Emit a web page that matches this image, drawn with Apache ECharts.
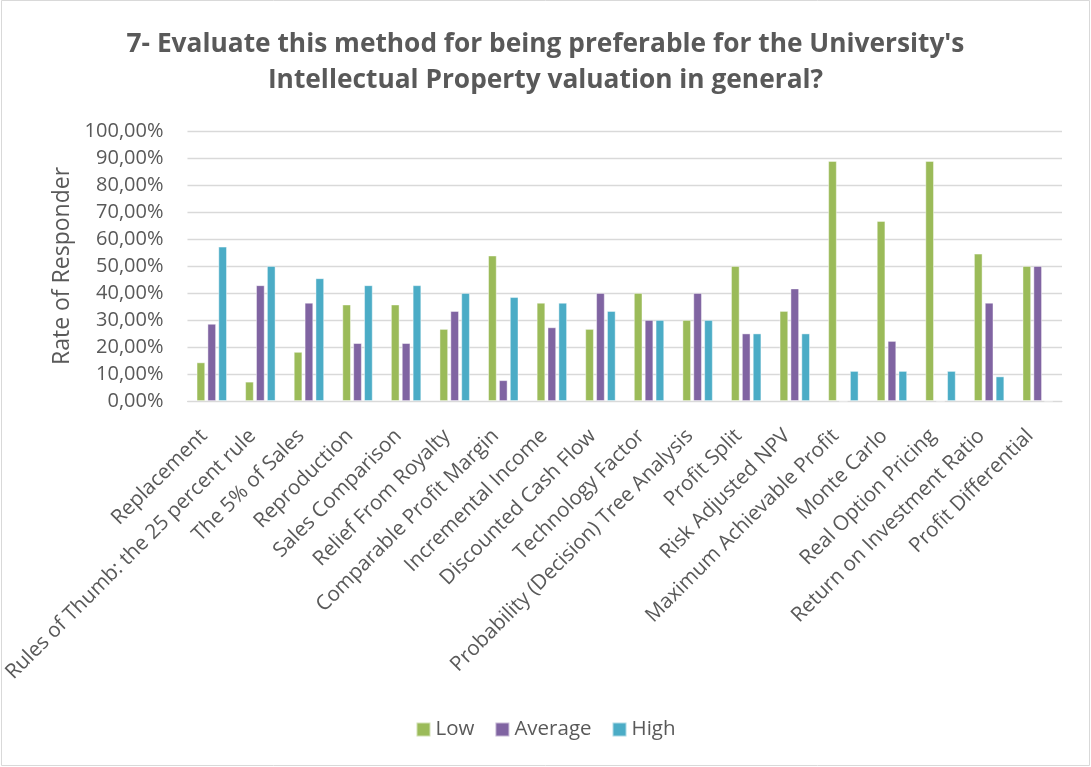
<!DOCTYPE html>
<html>
<head>
<meta charset="utf-8">
<script src="https://cdn.jsdelivr.net/npm/echarts@6/dist/echarts.min.js"></script>
<style>
  html, body { margin: 0; padding: 0; background: #ffffff; }
  #chart { width: 1091px; height: 767px; }
</style>
</head>
<body>
<div id="chart"></div>
<script>
// Valuation methods shown along the x axis
const categories = [
  'Replacement',
  'Rules of Thumb: the 25 percent rule',
  'The 5% of Sales',
  'Reproduction',
  'Sales Comparison',
  'Relief From Royalty',
  'Comparable Profit Margin',
  'Incremental Income',
  'Discounted Cash Flow',
  'Technology Factor',
  'Probability (Decision) Tree Analysis',
  'Profit Split',
  'Risk Adjusted NPV',
  'Maximum Achievable Profit',
  'Monte Carlo',
  'Real Option Pricing',
  'Return on Investment Ratio',
  'Profit Differential'
];

// Share of respondents (%) per rating
const lowValues = [14.29, 7.14, 18.18, 35.71, 35.71, 26.67, 53.85, 36.36, 26.67, 40.00, 30.00, 50.00, 33.33, 88.89, 66.67, 88.89, 54.55, 50.00];
const averageValues = [28.57, 42.86, 36.36, 21.43, 21.43, 33.33, 7.69, 27.27, 40.00, 30.00, 40.00, 25.00, 41.67, 0, 22.22, 0, 36.36, 50.00];
const highValues = [57.14, 50.00, 45.45, 42.86, 42.86, 40.00, 38.46, 36.36, 33.33, 30.00, 30.00, 25.00, 25.00, 11.11, 11.11, 11.11, 9.09, 0];

const seriesNames = ['Low', 'Average', 'High'];
const seriesColors = ['#9BBB59', '#8064A2', '#4BACC6'];

const titleText = "7- Evaluate this method for being preferable for the University's\nIntellectual Property valuation in general?";
const yAxisName = 'Rate of Responder';

const font = '"Open Sans", "Noto Sans", sans-serif';
const textColor = '#595959';

const chart = echarts.init(document.getElementById('chart'), null, { renderer: 'canvas' });

function barSeries(name, data, color) {
  return {
    name: name,
    type: 'bar',
    data: data,
    barWidth: 8.5,
    barGap: '28%',
    itemStyle: { color: color, borderColor: 'rgba(255,255,255,0.55)', borderWidth: 0.8 }
  };
}

chart.setOption({
  backgroundColor: '#ffffff',
  animation: false,
  title: {
    text: titleText,
    left: 'center',
    top: 22,
    textStyle: {
      fontFamily: font,
      fontSize: 26.3,
      fontWeight: 'bold',
      color: textColor,
      lineHeight: 36
    }
  },
  graphic: [{
    type: 'rect',
    shape: { x: 1.5, y: 0.5, width: 1088, height: 765 },
    style: { fill: 'none', stroke: '#d9d9d9', lineWidth: 1 },
    silent: true,
    z: 100
  }],
  legend: {
    data: seriesNames,
    bottom: 22,
    left: 'center',
    itemWidth: 14,
    itemHeight: 14,
    itemGap: 20,
    icon: 'rect',
    textStyle: { fontFamily: font, fontSize: 20.5, color: textColor }
  },
  grid: {
    left: 182,
    right: 29,
    top: 131,
    bottom: 366,
    containLabel: false
  },
  xAxis: {
    type: 'category',
    data: categories,
    axisLine: { show: true, lineStyle: { color: '#d9d9d9', width: 1 } },
    axisTick: { show: false },
    axisLabel: {
      interval: 0,
      rotate: 45,
      margin: 24,
      padding: [0, 11, 0, 0],
      fontFamily: font,
      fontSize: 20.6,
      color: textColor
    }
  },
  yAxis: {
    type: 'value',
    min: 0,
    max: 100,
    interval: 10,
    name: yAxisName,
    nameLocation: 'middle',
    nameGap: 114,
    nameTextStyle: { fontFamily: font, fontSize: 23, color: textColor },
    axisLine: { show: false },
    axisTick: { show: false },
    splitLine: { lineStyle: { color: '#d9d9d9', width: 1.3 } },
    axisLabel: {
      margin: 24,
      fontFamily: font,
      fontSize: 20,
      color: textColor,
      formatter: function (v) { return v.toFixed(2).replace('.', ',') + '%'; }
    }
  },
  series: [
    barSeries(seriesNames[0], lowValues, seriesColors[0]),
    barSeries(seriesNames[1], averageValues, seriesColors[1]),
    barSeries(seriesNames[2], highValues, seriesColors[2])
  ]
});
</script>
</body>
</html>
